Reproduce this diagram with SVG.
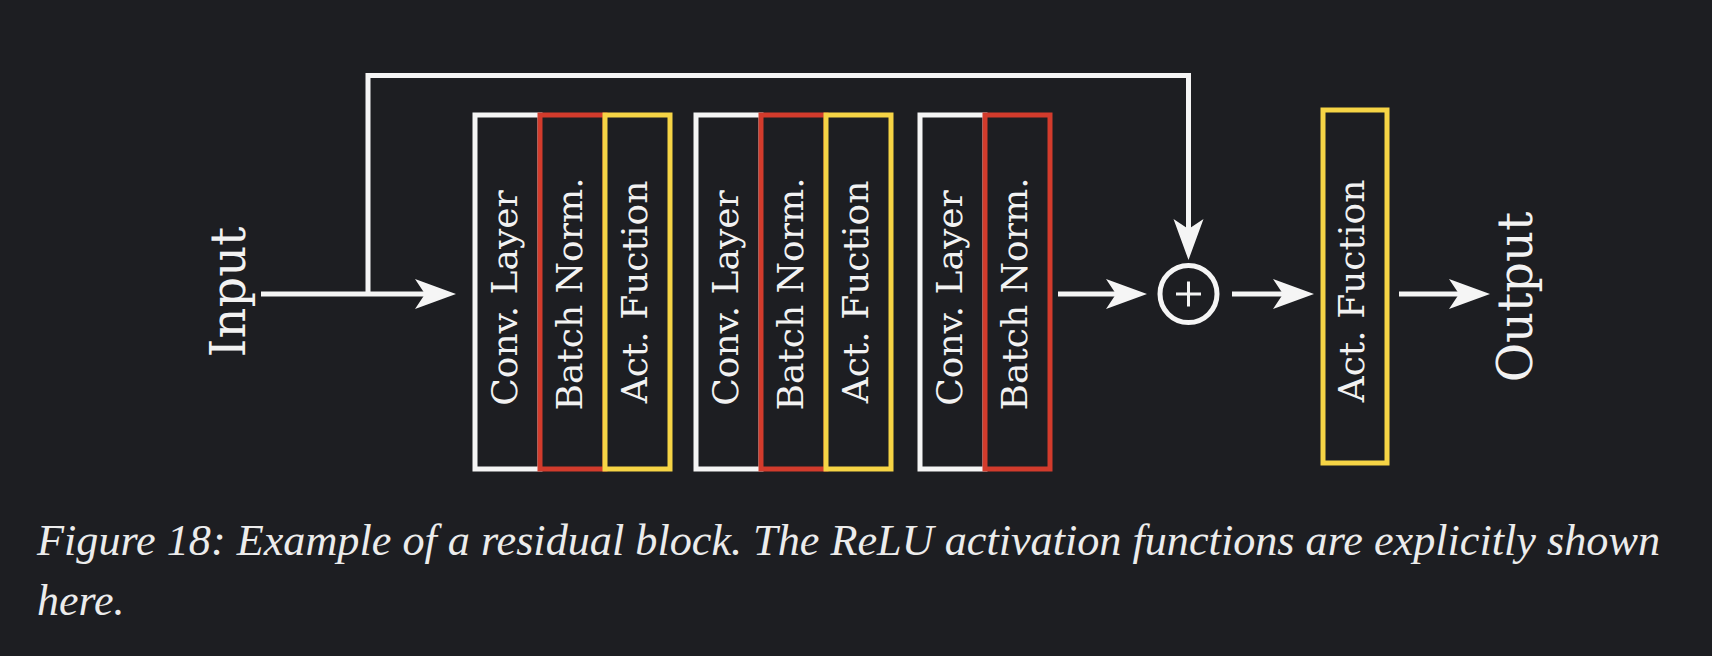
<svg xmlns="http://www.w3.org/2000/svg" width="1712" height="656" viewBox="0 0 1712 656">
<style>
.bg{fill:#1d1e22}
.box{fill:#1d1e22;stroke-width:5}
.bw{stroke:#f5f5f5}
.br{stroke:#d23b2c}
.by{stroke:#f6d445}
.lbl{font-family:'DejaVu Serif',serif;font-size:36px;fill:#f2f2f2;text-anchor:middle}
.io{font-size:48px}
.conn{stroke:#f5f5f5;stroke-width:5;fill:none}
.cap{font-family:'Liberation Serif',serif;font-style:italic;font-size:44px;fill:#ececec}
</style>
<defs>
<marker id="ah" viewBox="-42 -16 43 32" markerWidth="43" markerHeight="32" refX="-31" refY="0" orient="auto" markerUnits="userSpaceOnUse">
<path d="M0,0 L-41,-15 L-31,0 L-41,15 Z" fill="#f5f5f5"/>
</marker>
</defs>
<rect class="bg" x="0" y="0" width="1712" height="656"/>
<g id="connectors">
<path class="conn" d="M261,294 H425" marker-end="url(#ah)"/>
<path class="conn" d="M368,294 V75.5 H1188.5 V229" marker-end="url(#ah)"/>
<path class="conn" d="M1058,294 H1116" marker-end="url(#ah)"/>
<path class="conn" d="M1232,294 H1283" marker-end="url(#ah)"/>
<path class="conn" d="M1399,294 H1459" marker-end="url(#ah)"/>
</g>
<g id="input"><text class="lbl io" transform="translate(245,292) rotate(-90)">Input</text></g>
<g id="block1">
<rect class="box bw" x="475" y="115" width="65" height="354"/>
<text class="lbl" transform="translate(516.5,298) rotate(-90)">Conv. Layer</text>
<rect class="box br" x="540" y="115" width="65" height="354"/>
<text class="lbl" transform="translate(581.5,294) rotate(-90)">Batch Norm.</text>
<rect class="box by" x="605" y="115" width="65" height="354"/>
<text class="lbl" transform="translate(646.5,292) rotate(-90)">Act. Fuction</text>
</g>
<g id="block2">
<rect class="box bw" x="696" y="115" width="65" height="354"/>
<text class="lbl" transform="translate(737.5,298) rotate(-90)">Conv. Layer</text>
<rect class="box br" x="761" y="115" width="65" height="354"/>
<text class="lbl" transform="translate(802.5,294) rotate(-90)">Batch Norm.</text>
<rect class="box by" x="826" y="115" width="65" height="354"/>
<text class="lbl" transform="translate(867.5,292) rotate(-90)">Act. Fuction</text>
</g>
<g id="block3">
<rect class="box bw" x="920" y="115" width="65" height="354"/>
<text class="lbl" transform="translate(961.5,298) rotate(-90)">Conv. Layer</text>
<rect class="box br" x="985" y="115" width="65" height="354"/>
<text class="lbl" transform="translate(1026.5,294) rotate(-90)">Batch Norm.</text>
</g>
<g id="sum">
<circle cx="1188.5" cy="294" r="28.5" fill="none" stroke="#f5f5f5" stroke-width="5"/>
<path d="M1176,294 H1201 M1188.5,281.5 V306.5" stroke="#f5f5f5" stroke-width="3" fill="none"/>
</g>
<g id="act-final">
<rect class="box by" x="1323" y="110" width="64" height="353"/>
<text class="lbl" transform="translate(1364,291) rotate(-90)">Act. Fuction</text>
</g>
<g id="output"><text class="lbl io" transform="translate(1532,297) rotate(-90)">Output</text></g>
<g id="caption">
<text class="cap" x="37" y="555" textLength="1623" lengthAdjust="spacingAndGlyphs">Figure 18: Example of a residual block. The ReLU activation functions are explicitly shown</text>
<text class="cap" x="37" y="615">here.</text>
</g>
</svg>
